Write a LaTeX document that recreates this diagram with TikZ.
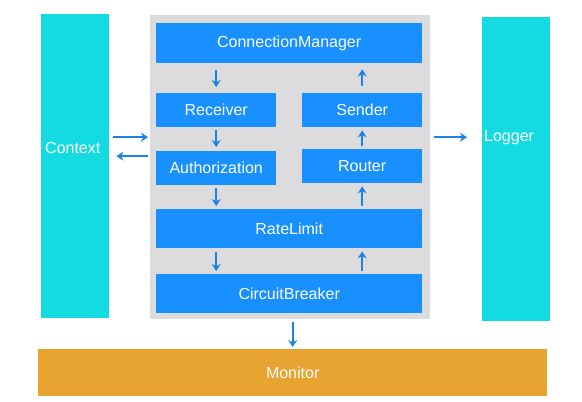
\documentclass[tikz,border=0pt]{standalone}
\usepackage{fontspec}
\setmainfont{Liberation Sans}
\usetikzlibrary{arrows.meta,calc}
\definecolor{boxblue}{HTML}{1890FF}
\definecolor{arrblue}{HTML}{1A84E6}
\definecolor{sidecyan}{HTML}{14DBE1}
\definecolor{coregray}{HTML}{DCDCDF}
\definecolor{monorange}{HTML}{E8A431}
\tikzset{
  x=1pt,y=1pt,
  blk/.style={fill=boxblue, draw=none, text=white, inner sep=0pt, anchor=north west, font=\fontsize{16}{18}\selectfont},
  side/.style={fill=sidecyan, draw=none, inner sep=0pt, anchor=north west},
  lbl/.style={text=white, inner sep=0pt, font=\fontsize{16}{18}\selectfont},
  arr/.style={draw=arrblue, line width=2.4pt, -{Stealth[length=7pt,width=9pt]}},
}
\begin{document}
\begin{tikzpicture}
\useasboundingbox (0,0) rectangle (582,-402);
% side boxes
\node[side, minimum width=68pt, minimum height=304pt,
  label={[lbl,anchor=west,xshift=4pt,yshift=18pt]west:Context}] (ctx) at (41,-14) {};
\node[side, minimum width=68pt, minimum height=304pt,
  label={[lbl,anchor=west,xshift=2pt,yshift=32pt]west:Logger}] (log) at (482,-17) {};
% core
\node[fill=coregray, draw=none, inner sep=0pt, anchor=north west, minimum width=280pt, minimum height=304pt] (core) at (150,-15) {};
\node[blk, minimum width=266pt, minimum height=40pt] (cm) at (156,-23) {ConnectionManager};
\node[blk, minimum width=120pt, minimum height=34pt] (recv) at (156,-93) {Receiver};
\node[blk, minimum width=120pt, minimum height=34pt] (send) at (302,-93) {Sender};
\node[blk, minimum width=120pt, minimum height=34pt] (auth) at (156,-151) {Authorization};
\node[blk, minimum width=120pt, minimum height=34pt] (rout) at (302,-149) {Router};
\node[blk, minimum width=266pt, minimum height=39pt] (rate) at (156,-209) {RateLimit};
\node[blk, minimum width=266pt, minimum height=39pt] (cb) at (156,-274) {CircuitBreaker};
% monitor
\node[fill=monorange, draw=none, inner sep=0pt, anchor=north west, minimum width=509pt, minimum height=47pt, text=white, font=\fontsize{16}{18}\selectfont] (mon) at (38,-349) {Monitor};
% inner arrows
\draw[arr, shorten <=7pt, shorten >=6pt] (cm.south -| recv.north) -- (recv.north);
\draw[arr, shorten <=3pt, shorten >=4pt] (recv.south) -- (auth.north);
\draw[arr, shorten <=3pt, shorten >=3pt] (auth.south) -- (auth.south |- rate.north);
\draw[arr, shorten <=4pt, shorten >=3pt] (rate.south -| auth.south) -- (cb.north -| auth.south);
\draw[arr, shorten <=3pt, shorten >=3pt] (cb.north -| rout.south) -- (rate.south -| rout.south);
\draw[arr, shorten <=3pt, shorten >=3pt] (rate.north -| rout.south) -- (rout.south);
\draw[arr, shorten <=3pt, shorten >=3pt] (rout.north) -- (send.south);
\draw[arr, shorten <=7pt, shorten >=6pt] (send.north) -- (cm.south -| send.north);
% outer arrows
\draw[arr, shorten <=4pt, shorten >=2pt] ([yshift=29pt]ctx.east) -- ([yshift=29pt]ctx.east -| core.west);
\draw[arr, shorten <=2pt, shorten >=7pt] ([yshift=10pt]ctx.east -| core.west) -- ([yshift=10pt]ctx.east);
\draw[arr, shorten <=4pt, shorten >=15pt] ([yshift=32pt]log.west -| core.east) -- ([yshift=32pt]log.west);
\draw[arr, shorten <=3pt, shorten >=2pt] (core.south -| mon.north) -- (mon.north);
\end{tikzpicture}
\end{document}
